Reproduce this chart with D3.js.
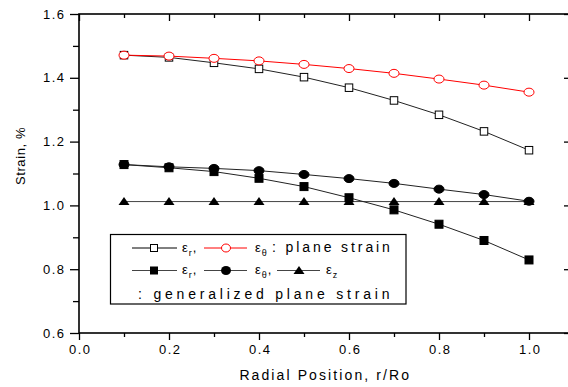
<!DOCTYPE html>
<html><head><meta charset="utf-8">
<script src="https://cdn.jsdelivr.net/npm/d3@7"></script>
<style>
html,body{margin:0;padding:0;background:#fff;}
svg{display:block;font-family:"Liberation Sans",Arial,sans-serif;}
</style></head>
<body>
<svg id="c" width="568" height="387"></svg>
<script>
const positions = [0.1,0.2,0.3,0.4,0.5,0.6,0.7,0.8,0.9,1.0];
const planeEr   = [1.471,1.464,1.447,1.428,1.402,1.369,1.329,1.284,1.232,1.173];
const planeEt   = [1.471,1.468,1.461,1.453,1.442,1.429,1.414,1.396,1.377,1.355];
const genEr     = [1.128,1.118,1.106,1.085,1.059,1.024,0.986,0.941,0.890,0.829];
const genEt     = [1.128,1.121,1.116,1.109,1.097,1.084,1.069,1.051,1.034,1.013];
const genEz     = [1.012,1.012,1.012,1.012,1.012,1.012,1.012,1.012,1.012,1.012];
const xMajor = [0.0,0.2,0.4,0.6,0.8,1.0];
const xMinor = [0.1,0.3,0.5,0.7,0.9];
const yMajor = [0.6,0.8,1.0,1.2,1.4,1.6];
const yMinor = [0.7,0.9,1.1,1.3,1.5];

const svg = d3.select("#c");
const x = d3.scaleLinear().domain([0,1.09]).range([79,569.5]);
const y = d3.scaleLinear().domain([0.6,1.6]).range([333,14]);
const fmt = d3.format(".1f");

const axW = 1.6;
function styleAxis(sel){ sel.select(".domain").remove(); sel.selectAll("line").attr("stroke","#000").attr("stroke-width",1.3); }

// bottom
const bAx = svg.append("g").attr("transform","translate(0,333)")
  .call(d3.axisBottom(x).tickValues(xMajor).tickSize(7).tickPadding(5).tickFormat(fmt));
styleAxis(bAx);
bAx.selectAll("text").attr("font-size",13).attr("letter-spacing","1.5px").attr("fill","#000").attr("font-family","Liberation Sans, Arial, sans-serif").attr("dx","0.75px");
svg.append("g").attr("transform","translate(0,333)")
  .call(d3.axisBottom(x).tickValues(xMinor).tickSize(4).tickFormat("")).call(styleAxis);
// top
svg.append("g").attr("transform","translate(0,14)")
  .call(d3.axisTop(x).tickValues(xMajor).tickSize(-7).tickFormat("")).call(styleAxis);
svg.append("g").attr("transform","translate(0,14)")
  .call(d3.axisTop(x).tickValues(xMinor).tickSize(-4).tickFormat("")).call(styleAxis);
// left
const lAx = svg.append("g").attr("transform","translate(79,0)")
  .call(d3.axisLeft(y).tickValues(yMajor).tickSize(9).tickPadding(6).tickFormat(fmt));
styleAxis(lAx);
lAx.selectAll("text").attr("font-size",13).attr("letter-spacing","1.5px").attr("fill","#000").attr("font-family","Liberation Sans, Arial, sans-serif").attr("dx","1.5px");
svg.append("g").attr("transform","translate(79,0)")
  .call(d3.axisLeft(y).tickValues(yMinor).tickSize(6).tickFormat("")).call(styleAxis);
// right
svg.append("g").attr("transform","translate(569,0)")
  .call(d3.axisRight(y).tickValues(yMajor).tickSize(-5).tickFormat("")).call(styleAxis);

// frame lines
svg.append("rect").attr("x",x(0)).attr("y",y(1.6)).attr("width",x(1.09)-x(0)).attr("height",y(0.6)-y(1.6))
  .attr("fill","none").attr("stroke","#000").attr("stroke-width",axW);

// axis titles
svg.append("text").attr("x",(x(0)+x(1.09))/2+1).attr("y",380).attr("text-anchor","middle")
  .attr("font-size",14).attr("letter-spacing","2.1px").text("Radial Position, r/Ro");
svg.append("text").attr("transform","translate(25,156) rotate(-90)").attr("text-anchor","middle")
  .attr("font-size",13).attr("letter-spacing","0.6px").text("Strain, %");

// series
const line = d3.line().x((d,i)=>x(positions[i])).y(d=>y(d));
function drawLine(vals,color,w){
  svg.append("path").datum(vals).attr("d",line).attr("fill","none").attr("stroke",color).attr("stroke-width",w);
}
drawLine(genEz,"#444",1);
drawLine(genEr,"#222",1);
drawLine(genEt,"#222",1);
drawLine(planeEr,"#222",1);
drawLine(planeEt,"#f00",1);

function squares(vals,fill,sz){
  svg.append("g").selectAll("rect").data(vals).join("rect")
    .attr("x",(d,i)=>x(positions[i])-sz/2).attr("y",d=>y(d)-sz/2)
    .attr("width",sz).attr("height",sz)
    .attr("fill",fill).attr("stroke","#000").attr("stroke-width",1);
}
function ellipses(vals,fill,stroke,rx,ry){
  svg.append("g").selectAll("ellipse").data(vals).join("ellipse")
    .attr("cx",(d,i)=>x(positions[i])).attr("cy",d=>y(d)).attr("rx",rx).attr("ry",ry)
    .attr("fill",fill).attr("stroke",stroke).attr("stroke-width",1);
}
function triangles(vals){
  svg.append("g").selectAll("path").data(vals).join("path")
    .attr("d",(d,i)=>{const cx=x(positions[i]), cy=y(d); return `M${cx-5.5},${cy+3.5}L${cx},${cy-4.5}L${cx+5.5},${cy+3.5}Z`;})
    .attr("fill","#000");
}
triangles(genEz);
squares(genEr,"#000",8);
ellipses(genEt,"#000","#000",5,4);
squares(planeEr,"#fff",7.5);
ellipses(planeEt,"#fff","#f00",5,4);

// legend
const lg = svg.append("g");
lg.append("rect").attr("x",110.5).attr("y",234.5).attr("width",295.5).attr("height",69.5)
  .attr("fill","#fff").attr("stroke","#000").attr("stroke-width",1.2);
function lseg(x1,x2,yy,c){ lg.append("line").attr("x1",x1).attr("x2",x2).attr("y1",yy).attr("y2",yy).attr("stroke",c).attr("stroke-width",1); }
function eps(xx,yy,sub,comma){
  const t = lg.append("text").attr("x",xx).attr("y",yy).attr("font-size",13).attr("letter-spacing","1px");
  t.append("tspan").text("ε");
  t.append("tspan").attr("font-size",9).attr("dy",4).text(sub);
  if(comma) t.append("tspan").attr("dy",-4).text(",");
}
// row 1
const r1 = 248;
lseg(132,177,r1,"#000");
lg.append("rect").attr("x",150.5).attr("y",r1-3.5).attr("width",7).attr("height",7).attr("fill","#fff").attr("stroke","#000");
eps(182,252,"r",true);
lseg(204,247,r1,"#f00");
lg.append("ellipse").attr("cx",226).attr("cy",r1).attr("rx",4.5).attr("ry",4).attr("fill","#fff").attr("stroke","#f00");
eps(255,252,"θ",false);
lg.append("text").attr("x",272).attr("y",252).attr("font-size",14).attr("letter-spacing","2.9px").text(": plane strain");
// row 2
const r2 = 270.5;
lseg(132,177,r2,"#444");
lg.append("rect").attr("x",150).attr("y",r2-4).attr("width",8).attr("height",8).attr("fill","#000");
eps(182,274,"r",true);
lseg(204,247,r2,"#444");
lg.append("ellipse").attr("cx",226).attr("cy",r2).attr("rx",5).attr("ry",4.5).attr("fill","#000");
eps(255,274,"θ",true);
lseg(277,320,r2,"#444");
lg.append("path").attr("d",`M${293.5},${r2+3.5}L${299},${r2-4.5}L${304.5},${r2+3.5}Z`).attr("fill","#000");
eps(326,274,"z",false);
// row 3
lg.append("text").attr("x",138).attr("y",299).attr("font-size",14).attr("letter-spacing","3.8px").text(": generalized plane strain");
</script>
</body></html>
